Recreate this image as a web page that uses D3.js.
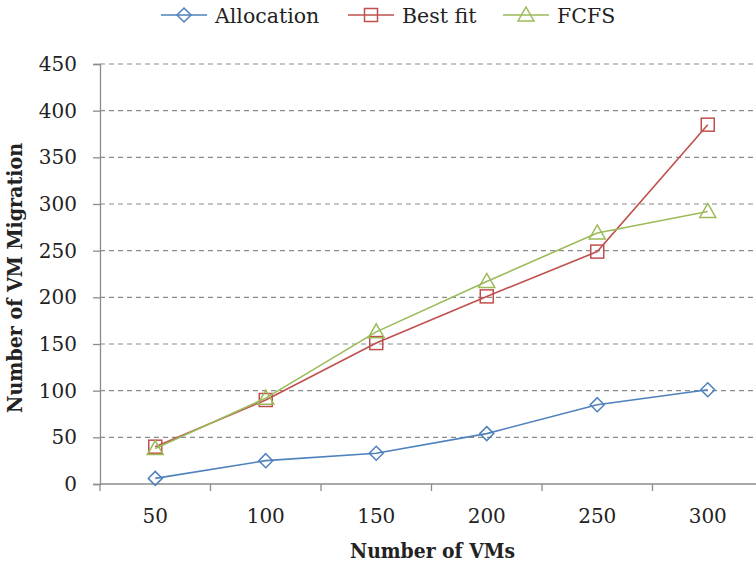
<!DOCTYPE html>
<html>
<head>
<meta charset="utf-8">
<script src="https://cdn.jsdelivr.net/npm/d3@7"></script>
<style>
  html, body { margin: 0; padding: 0; background: #fff; }
  svg { display: block; }
  text { font-family: "DejaVu Serif", "Liberation Serif", serif; fill: #222; }
</style>
</head>
<body>
<svg id="chart" width="756" height="566"></svg>
<script>
// Number of VMs on the x axis
const categories = ["50", "100", "150", "200", "250", "300"];
// VM migrations per allocation policy
const allocation = [6, 25, 33, 54, 85, 101];
const bestFit = [40, 90, 151, 201, 249, 385];
const fcfs = [38, 92, 163, 217, 269, 292];
const yTicks = [0, 50, 100, 150, 200, 250, 300, 350, 400, 450];

const series = [
  { name: "Allocation", values: allocation, color: "#4F81BD", symbol: "diamond" },
  { name: "Best fit", values: bestFit, color: "#C0504D", symbol: "square" },
  { name: "FCFS", values: fcfs, color: "#9BBB59", symbol: "triangle" }
];

const svg = d3.select("#chart");
const plotLeft = 100, plotTop = 64, plotBottom = 484, bandW = 110.5;

const x = d3.scaleBand().domain(categories).range([plotLeft, plotLeft + bandW * categories.length]).padding(0);
const y = d3.scaleLinear().domain([0, 450]).range([plotBottom, plotTop]);

// horizontal dashed gridlines
svg.append("g").selectAll("line").data(yTicks.filter(d => d > 0)).join("line")
  .attr("x1", plotLeft).attr("x2", 756)
  .attr("y1", d => y(d)).attr("y2", d => y(d))
  .attr("stroke", "#8c8c8c").attr("stroke-width", 1.2)
  .attr("stroke-dasharray", "5,4");

// y axis
const yAxis = svg.append("g").attr("transform", `translate(${plotLeft},0)`)
  .call(d3.axisLeft(y).tickValues(yTicks).tickSize(7).tickPadding(16));
yAxis.select(".domain").attr("stroke", "#8c8c8c").attr("stroke-width", 1.3);
yAxis.selectAll(".tick line").attr("stroke", "#8c8c8c").attr("stroke-width", 1.3);
yAxis.selectAll(".tick text").attr("font-size", 20).attr("font-family", "DejaVu Serif").attr("fill", "#222");

// x axis: line with ticks at the band edges
svg.append("line").attr("x1", plotLeft).attr("x2", 756).attr("y1", plotBottom).attr("y2", plotBottom)
  .attr("stroke", "#8c8c8c").attr("stroke-width", 1.3);
svg.append("g").selectAll("line").data(categories).join("line")
  .attr("x1", d => x(d)).attr("x2", d => x(d))
  .attr("y1", plotBottom).attr("y2", plotBottom + 7)
  .attr("stroke", "#8c8c8c").attr("stroke-width", 1.3);
svg.append("g").selectAll("text").data(categories).join("text")
  .attr("x", d => x(d) + x.bandwidth() / 2).attr("y", plotBottom + 39)
  .attr("text-anchor", "middle").attr("font-size", 20).text(d => d);

// axis titles
svg.append("text").attr("x", 350).attr("y", 558)
  .attr("font-size", 20).attr("font-weight", "bold")
  .attr("textLength", 165).attr("lengthAdjust", "spacingAndGlyphs")
  .text("Number of VMs");
svg.append("text").attr("transform", "translate(22,413) rotate(-90)")
  .attr("font-size", 20).attr("font-weight", "bold")
  .attr("textLength", 270).attr("lengthAdjust", "spacingAndGlyphs")
  .text("Number of VM Migration");

const cx = d => x(d) + x.bandwidth() / 2;
const line = d3.line().x(d => cx(d.c)).y(d => y(d.v));

function marker(sel, symbol, color) {
  if (symbol === "diamond") {
    sel.append("path").attr("d", "M0,-7L7,0L0,7L-7,0Z");
  } else if (symbol === "square") {
    sel.append("rect").attr("x", -6.5).attr("y", -6.5).attr("width", 13).attr("height", 13);
  } else {
    sel.append("path").attr("d", "M0,-8L8,6L-8,6Z");
  }
  sel.selectAll("path,rect").attr("fill", "none").attr("stroke", color).attr("stroke-width", 1.5);
}

series.forEach(s => {
  const pts = s.values.map((v, i) => ({ c: categories[i], v }));
  svg.append("path").datum(pts).attr("d", line)
    .attr("fill", "none").attr("stroke", s.color).attr("stroke-width", 1.6);
  pts.forEach(p => {
    const g = svg.append("g").attr("transform", `translate(${cx(p.c)},${y(p.v)})`);
    marker(g, s.symbol, s.color);
  });
});

// legend
const legendItems = [
  { x0: 161, tx: 215 },
  { x0: 348, tx: 402 },
  { x0: 503, tx: 557 }
];
series.forEach((s, i) => {
  const L = legendItems[i];
  svg.append("line").attr("x1", L.x0).attr("x2", L.x0 + 46).attr("y1", 15).attr("y2", 15)
    .attr("stroke", s.color).attr("stroke-width", 1.6);
  const g = svg.append("g").attr("transform", `translate(${L.x0 + 23},15)`);
  marker(g, s.symbol, s.color);
  svg.append("text").attr("x", L.tx).attr("y", 23).attr("font-size", 20.5).text(s.name);
});
</script>
</body>
</html>
